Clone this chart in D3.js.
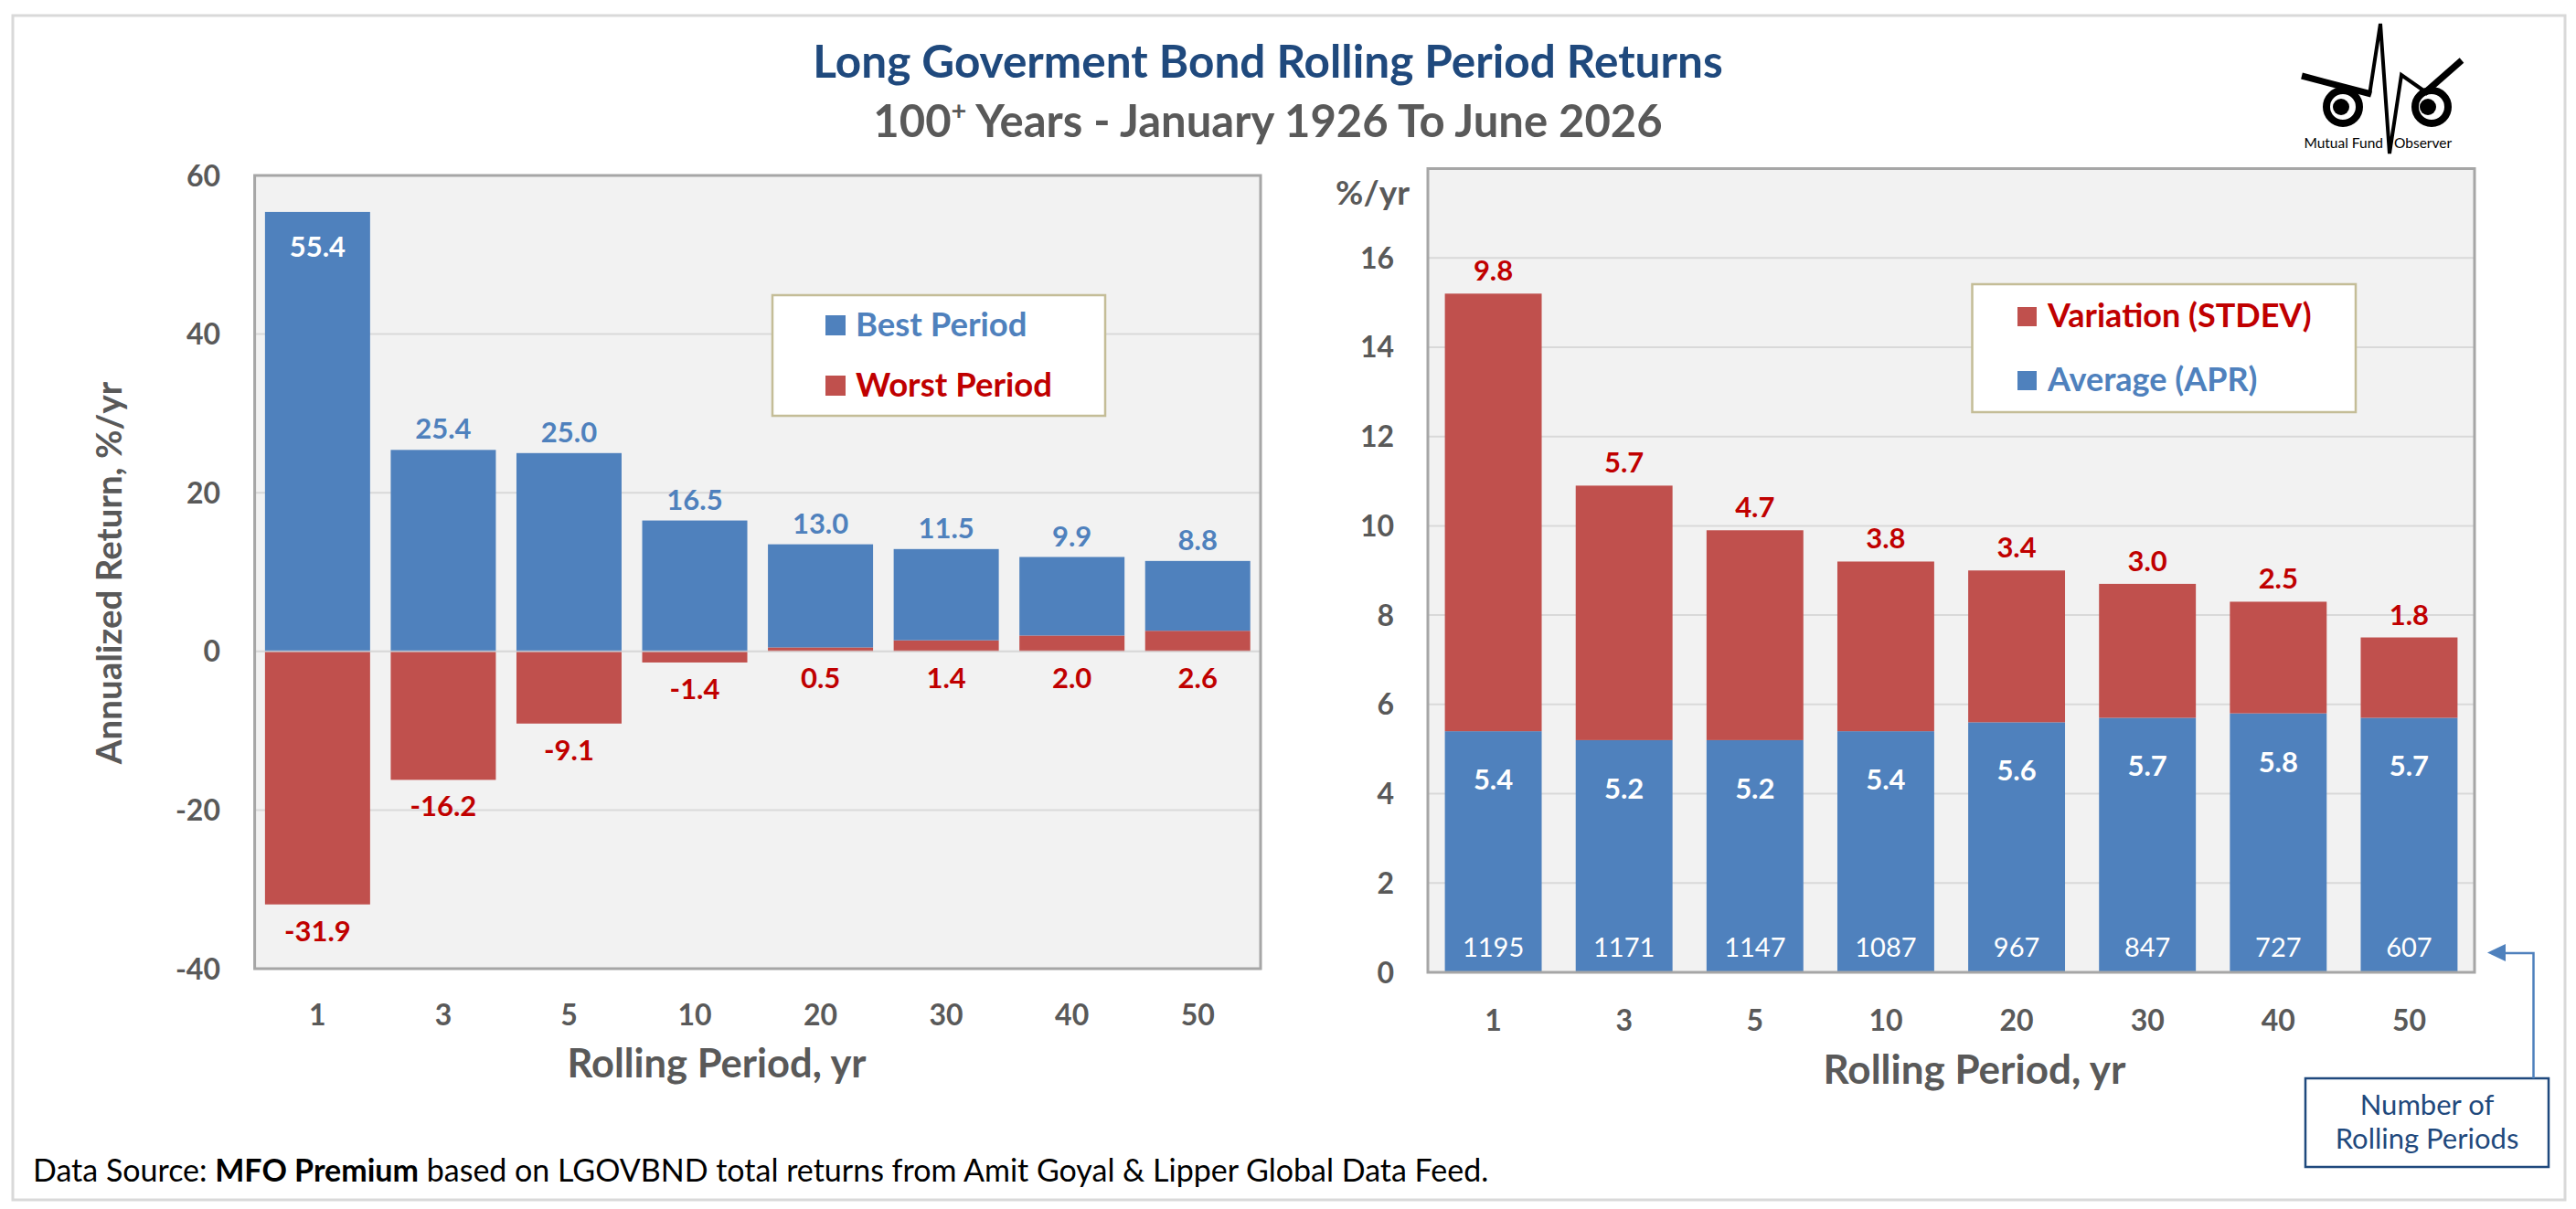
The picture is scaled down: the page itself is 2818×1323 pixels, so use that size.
<!DOCTYPE html>
<html>
<head>
<meta charset="utf-8">
<script src="https://cdn.jsdelivr.net/npm/d3@7"></script>
<style>
html,body{margin:0;padding:0;background:#fff;}
svg{display:block;}
text{font-family:"Lato","Open Sans",sans-serif;}
</style>
</head>
<body>
<svg id="chart" width="2818" height="1323"></svg>
<script>
// ---------- DATA ----------
const periods = ["1","3","5","10","20","30","40","50"];
const bestPeriod  = [55.4, 25.4, 25.0, 16.5, 13.0, 11.5, 9.9, 8.8];
const worstPeriod = [-31.9, -16.2, -9.1, -1.4, 0.5, 1.4, 2.0, 2.6];
const averageAPR  = [5.4, 5.2, 5.2, 5.4, 5.6, 5.7, 5.8, 5.7];
const stdevVar    = [9.8, 5.7, 4.7, 3.8, 3.4, 3.0, 2.5, 1.8];
const rollingCounts = [1195, 1171, 1147, 1087, 967, 847, 727, 607];
const leftTicks  = [-40, -20, 0, 20, 40, 60];
const rightTicks = [0, 2, 4, 6, 8, 10, 12, 14, 16];

const BLUE = "#4f81bd", RED = "#c0504d", RED_TXT = "#c00000", GRAY = "#595959", NAVY = "#1f497d";

const svg = d3.select("#chart");

// outer frame
svg.append("rect").attr("x",14).attr("y",17).attr("width",2792).attr("height",1296)
  .attr("fill","#fff").attr("stroke","#d9d9d9").attr("stroke-width",3);

// titles
svg.append("text").attr("x",1387).attr("y",85).attr("text-anchor","middle")
  .attr("font-size",49.5).attr("font-weight","bold").attr("fill",NAVY)
  .text("Long Goverment Bond Rolling Period Returns");
const sub = svg.append("text").attr("x",1387).attr("y",150).attr("text-anchor","middle")
  .attr("font-size",49).attr("font-weight","bold").attr("fill",GRAY);
sub.append("tspan").text("100");
sub.append("tspan").attr("font-size",29).attr("dy",-19).text("+");
sub.append("tspan").attr("dy",19).text(" Years - January 1926 To June 2026");

// ---------- LEFT CHART ----------
const L = {x0:278.6, x1:1379, y0:192, y1:1060};
const xL = d3.scaleBand().domain(periods).range([L.x0, L.x1]).paddingInner(0.164).paddingOuter(0.082);
const yL = d3.scaleLinear().domain([-40, 60]).range([L.y1, L.y0]);

const gL = svg.append("g");
gL.append("rect").attr("x",L.x0).attr("y",L.y0).attr("width",L.x1-L.x0).attr("height",L.y1-L.y0)
  .attr("fill","#f2f2f2");
gL.selectAll("line.grid").data(leftTicks).join("line").attr("class","grid")
  .attr("x1",L.x0).attr("x2",L.x1).attr("y1",d=>yL(d)).attr("y2",d=>yL(d))
  .attr("stroke","#d9d9d9").attr("stroke-width",2);

const leftRows = periods.map((p,i)=>({p, best:bestPeriod[i], worst:worstPeriod[i]}));
// worst segment (stacked first)
gL.selectAll("rect.worst").data(leftRows).join("rect").attr("class","worst")
  .attr("x",d=>xL(d.p)).attr("width",xL.bandwidth())
  .attr("y",d=>yL(Math.max(0,d.worst))).attr("height",d=>Math.abs(yL(d.worst)-yL(0)))
  .attr("fill",RED);
// best segment stacked on top of positive worst
gL.selectAll("rect.best").data(leftRows).join("rect").attr("class","best")
  .attr("x",d=>xL(d.p)).attr("width",xL.bandwidth())
  .attr("y",d=>yL(d.best + Math.max(0,d.worst)))
  .attr("height",d=>yL(Math.max(0,d.worst)) - yL(d.best + Math.max(0,d.worst)))
  .attr("fill",BLUE);
gL.append("line").attr("x1",L.x0).attr("x2",L.x1).attr("y1",yL(0)).attr("y2",yL(0))
  .attr("stroke","#d9d9d9").attr("stroke-width",2).attr("opacity",0.7);
gL.append("rect").attr("x",L.x0).attr("y",L.y0).attr("width",L.x1-L.x0).attr("height",L.y1-L.y0)
  .attr("fill","none").attr("stroke","#a6a6a6").attr("stroke-width",3);

// best labels
const insideTop = d => (yL(d.best+Math.max(0,d.worst))-45 < L.y0);
gL.selectAll("text.bestLbl").data(leftRows).join("text").attr("class","bestLbl")
  .attr("x",d=>xL(d.p)+xL.bandwidth()/2)
  .attr("y",d=>{const top=yL(d.best+Math.max(0,d.worst)); return insideTop(d)? top+49 : top-12;})
  .attr("text-anchor","middle").attr("font-size",31).attr("font-weight","bold")
  .attr("fill",d=>insideTop(d)?"#fff":BLUE)
  .text(d=>d.best.toFixed(1));
// worst labels
gL.selectAll("text.worstLbl").data(leftRows).join("text").attr("class","worstLbl")
  .attr("x",d=>xL(d.p)+xL.bandwidth()/2)
  .attr("y",d=>yL(Math.min(0,d.worst))+40)
  .attr("text-anchor","middle").attr("font-size",31).attr("font-weight","bold").attr("fill",RED_TXT)
  .text(d=>d.worst.toFixed(1));

// axes labels
gL.selectAll("text.ytick").data(leftTicks).join("text").attr("class","ytick")
  .attr("x",241).attr("y",d=>yL(d)).attr("dy","0.36em").attr("text-anchor","end")
  .attr("font-size",32).attr("font-weight","bold").attr("fill",GRAY).text(d=>d);
gL.selectAll("text.xtick").data(periods).join("text").attr("class","xtick")
  .attr("x",d=>xL(d)+xL.bandwidth()/2).attr("y",1122).attr("text-anchor","middle")
  .attr("font-size",32).attr("font-weight","bold").attr("fill",GRAY).text(d=>d);
gL.append("text").attr("x",784).attr("y",1179).attr("text-anchor","middle")
  .attr("font-size",43.5).attr("font-weight","bold").attr("fill",GRAY).text("Rolling Period, yr");
gL.append("text").attr("transform","translate(133,627) rotate(-90)").attr("text-anchor","middle")
  .attr("font-size",38.5).attr("font-weight","bold").attr("fill",GRAY).text("Annualized Return, %/yr");

// left legend
const legL = [{name:"Best Period", c:BLUE, t:BLUE},{name:"Worst Period", c:RED, t:RED_TXT}];
gL.append("rect").attr("x",845).attr("y",323).attr("width",364).attr("height",132)
  .attr("fill","#fff").attr("stroke","#c4bd97").attr("stroke-width",2.5);
legL.forEach((d,i)=>{
  gL.append("rect").attr("x",903).attr("y",345+i*66).attr("width",22).attr("height",22).attr("fill",d.c);
  gL.append("text").attr("x",936).attr("y",368+i*66).attr("font-size",36.5).attr("font-weight","bold")
    .attr("fill",d.t).text(d.name);
});

// ---------- RIGHT CHART ----------
const R = {x0:1562, x1:2707, y0:184.5, y1:1064};
const xR = d3.scaleBand().domain(periods).range([R.x0, R.x1]).paddingInner(0.26).paddingOuter(0.13);
const yR = d3.scaleLinear().domain([0, 18]).range([R.y1, R.y0]);
const gR = svg.append("g");
gR.append("rect").attr("x",R.x0).attr("y",R.y0).attr("width",R.x1-R.x0).attr("height",R.y1-R.y0)
  .attr("fill","#f2f2f2");
gR.selectAll("line.grid").data(rightTicks).join("line").attr("class","grid")
  .attr("x1",R.x0).attr("x2",R.x1).attr("y1",d=>yR(d)).attr("y2",d=>yR(d))
  .attr("stroke","#d9d9d9").attr("stroke-width",2);
const rightRows = periods.map((p,i)=>({p, apr:averageAPR[i], sd:stdevVar[i], n:rollingCounts[i]}));
gR.selectAll("rect.apr").data(rightRows).join("rect").attr("class","apr")
  .attr("x",d=>xR(d.p)).attr("width",xR.bandwidth())
  .attr("y",d=>yR(d.apr)).attr("height",d=>yR(0)-yR(d.apr)).attr("fill",BLUE);
gR.selectAll("rect.sd").data(rightRows).join("rect").attr("class","sd")
  .attr("x",d=>xR(d.p)).attr("width",xR.bandwidth())
  .attr("y",d=>yR(d.apr+d.sd)).attr("height",d=>yR(d.apr)-yR(d.apr+d.sd)).attr("fill",RED);
gR.append("rect").attr("x",R.x0).attr("y",R.y0).attr("width",R.x1-R.x0).attr("height",R.y1-R.y0)
  .attr("fill","none").attr("stroke","#a6a6a6").attr("stroke-width",3);

gR.selectAll("text.sdLbl").data(rightRows).join("text").attr("class","sdLbl")
  .attr("x",d=>xR(d.p)+xR.bandwidth()/2).attr("y",d=>yR(d.apr+d.sd)-14)
  .attr("text-anchor","middle").attr("font-size",31).attr("font-weight","bold").attr("fill",RED_TXT)
  .text(d=>d.sd.toFixed(1));
gR.selectAll("text.aprLbl").data(rightRows).join("text").attr("class","aprLbl")
  .attr("x",d=>xR(d.p)+xR.bandwidth()/2).attr("y",d=>yR(d.apr)+64)
  .attr("text-anchor","middle").attr("font-size",31).attr("font-weight","bold").attr("fill","#fff")
  .text(d=>d.apr.toFixed(1));
gR.selectAll("text.nLbl").data(rightRows).join("text").attr("class","nLbl")
  .attr("x",d=>xR(d.p)+xR.bandwidth()/2).attr("y",yR(0)-17)
  .attr("text-anchor","middle").attr("font-size",29).attr("fill","#fff")
  .text(d=>d.n);

gR.selectAll("text.ytick").data(rightTicks).join("text").attr("class","ytick")
  .attr("x",1525).attr("y",d=>yR(d)).attr("dy","0.36em").attr("text-anchor","end")
  .attr("font-size",32).attr("font-weight","bold").attr("fill",GRAY).text(d=>d);
gR.append("text").attr("x",1542).attr("y",224).attr("text-anchor","end")
  .attr("font-size",37).attr("font-weight","bold").attr("fill",GRAY).text("%/yr");
gR.selectAll("text.xtick").data(periods).join("text").attr("class","xtick")
  .attr("x",d=>xR(d)+xR.bandwidth()/2).attr("y",1128).attr("text-anchor","middle")
  .attr("font-size",32).attr("font-weight","bold").attr("fill",GRAY).text(d=>d);
gR.append("text").attr("x",2160).attr("y",1186).attr("text-anchor","middle")
  .attr("font-size",44).attr("font-weight","bold").attr("fill",GRAY).text("Rolling Period, yr");

// right legend
const legR = [{name:"Variation (STDEV)", c:RED, t:RED_TXT},{name:"Average (APR)", c:BLUE, t:BLUE}];
gR.append("rect").attr("x",2157.5).attr("y",311).attr("width",419.5).attr("height",140)
  .attr("fill","#fff").attr("stroke","#c4bd97").attr("stroke-width",2.5);
legR.forEach((d,i)=>{
  gR.append("rect").attr("x",2207).attr("y",336+i*70).attr("width",21).attr("height",21).attr("fill",d.c);
  gR.append("text").attr("x",2240).attr("y",358+i*70).attr("font-size",36).attr("font-weight","bold")
    .attr("fill",d.t).text(d.name);
});

// annotation box + arrow
svg.append("rect").attr("x",2522).attr("y",1180).attr("width",266).attr("height",97)
  .attr("fill","#fff").attr("stroke",NAVY).attr("stroke-width",2.5);
svg.append("text").attr("x",2655).attr("y",1220).attr("text-anchor","middle")
  .attr("font-size",31).attr("fill",NAVY).text("Number of");
svg.append("text").attr("x",2655).attr("y",1257).attr("text-anchor","middle")
  .attr("font-size",31).attr("fill",NAVY).text("Rolling Periods");
svg.append("path").attr("d","M2771.5,1180 L2771.5,1043 L2738,1043")
  .attr("fill","none").attr("stroke",BLUE).attr("stroke-width",2.5);
svg.append("path").attr("d","M2721,1042.5 L2741,1033 L2741,1052 Z").attr("fill",BLUE);

// footer
const foot = svg.append("text").attr("x",36).attr("y",1293).attr("font-size",34).attr("fill","#000");
foot.append("tspan").text("Data Source: ");
foot.append("tspan").attr("font-weight","bold").text("MFO Premium");
foot.append("tspan").text(" based on LGOVBND total returns from Amit Goyal & Lipper Global Data Feed.");

// logo (Mutual Fund Observer)
const lg = svg.append("g");
lg.append("circle").attr("cx",2563).attr("cy",117).attr("r",18).attr("fill","none").attr("stroke","#000").attr("stroke-width",8);
lg.append("circle").attr("cx",2561).attr("cy",117).attr("r",9).attr("fill","#000");
lg.append("circle").attr("cx",2660).attr("cy",117).attr("r",18).attr("fill","none").attr("stroke","#000").attr("stroke-width",8);
lg.append("circle").attr("cx",2656).attr("cy",117).attr("r",9).attr("fill","#000");
lg.append("line").attr("x1",2518).attr("y1",83).attr("x2",2594).attr("y2",103).attr("stroke","#000").attr("stroke-width",7);
lg.append("path").attr("d","M2592,104 L2604,26 L2614,168 L2627,82 L2654,101")
  .attr("fill","none").attr("stroke","#000").attr("stroke-width",4).attr("stroke-linejoin","miter");
lg.append("line").attr("x1",2652).attr("y1",102).attr("x2",2693).attr("y2",66).attr("stroke","#000").attr("stroke-width",7);
lg.append("text").attr("x",2607).attr("y",162).attr("text-anchor","end").attr("font-size",15.5).attr("fill","#000").text("Mutual Fund");
lg.append("text").attr("x",2619).attr("y",162).attr("font-size",15.5).attr("fill","#000").text("Observer");
</script>
</body>
</html>
